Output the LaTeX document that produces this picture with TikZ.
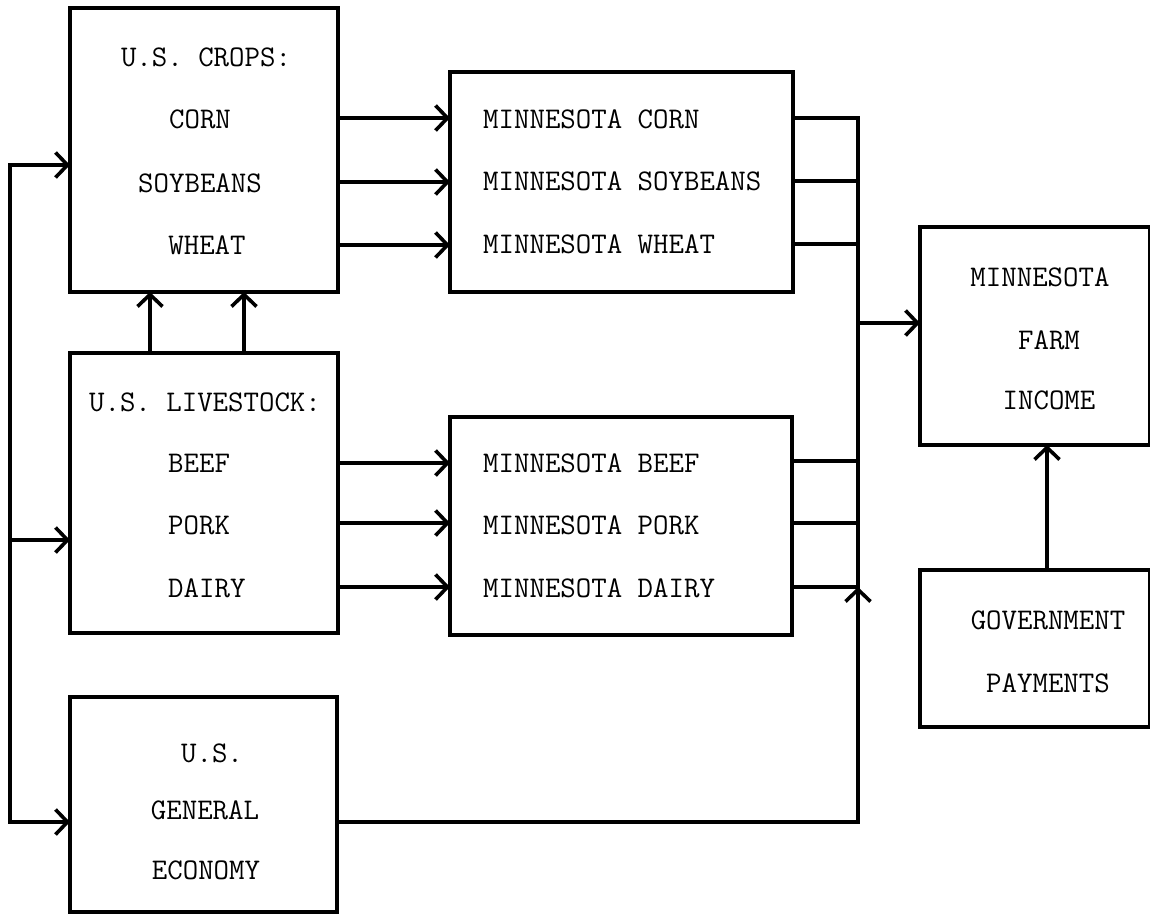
\documentclass[tikz,border=0pt]{standalone}
\usepackage{fontspec}
\usetikzlibrary{arrows.meta}
\begin{document}
\begin{tikzpicture}[x=1pt,y=-1pt,
  box/.style 2 args={draw,line width=4pt,minimum width=#1,minimum height=#2,inner sep=0pt,outer sep=0pt},
  lbl/.style={font=\fontsize{30}{36}\selectfont\ttfamily,inner sep=0pt},
  conn/.style={line width=3.6pt,line cap=rect},
  arr/.style={line width=3.6pt,-{Straight Barb[length=12pt,width=25pt]}}]
\useasboundingbox (0,0) rectangle (1150,915);
\clip (0,0) rectangle (1150,915);
% boxes
\node[box={268pt}{284pt}] (crops) at (204,150) {};
\node[box={343pt}{220pt}] (mncrops) at (621.5,182) {};
\node[box={268pt}{280pt}] (live) at (204,493) {};
\node[box={342pt}{218pt}] (mnlive) at (621,526) {};
\node[box={267pt}{215pt}] (econ) at (203.5,804.5) {};
\node[box={230pt}{218pt}] (farm) at (1035,336) {};
\node[box={230pt}{157pt}] (gov) at (1035,648.5) {};
% texts
\node[lbl] (t1) at (206,57) {U.S. CROPS:};
\node[lbl] (t2) at (200,119) {CORN};
\node[lbl] (t3) at (200,183) {SOYBEANS};
\node[lbl] (t4) at (207,245) {WHEAT};
\node[lbl] (t5) at (205,402) {U.S. LIVESTOCK:};
\node[lbl,anchor=west] (t6) at (168,463) {BEEF};
\node[lbl,anchor=west] (t7) at (168,525) {PORK};
\node[lbl,anchor=west] (t8) at (168,588) {DAIRY};
\node[lbl,anchor=west] (t9) at (483,119) {MINNESOTA CORN};
\node[lbl,anchor=west] (t10) at (483,181) {MINNESOTA SOYBEANS};
\node[lbl,anchor=west] (t11) at (483,244) {MINNESOTA WHEAT};
\node[lbl,anchor=west] (t12) at (483,463) {MINNESOTA BEEF};
\node[lbl,anchor=west] (t13) at (483,525) {MINNESOTA PORK};
\node[lbl,anchor=west] (t14) at (483,588) {MINNESOTA DAIRY};
\node[lbl] (t15) at (212,753) {U.S.};
\node[lbl] (t16) at (205,810) {GENERAL};
\node[lbl] (t17) at (206,870) {ECONOMY};
\node[lbl] (t18) at (1040,277) {MINNESOTA};
\node[lbl] (t19) at (1049,340) {FARM};
\node[lbl] (t20) at (1049,400) {INCOME};
\node[lbl] (t21) at (1048,620) {GOVERNMENT};
\node[lbl] (t22) at (1048,683) {PAYMENTS};
% left bus
\coordinate (lt) at (10,165);
\coordinate (lb) at (10,822);
\draw[conn] (lt) -- (lb);
\draw[arr] (lt) -- (crops.west |- lt);
\draw[arr] (lt |- 0,540) -- (live.west |- 0,540);
\draw[arr] (lb) -- (econ.west |- lb);
% crops -> MN crops
\draw[arr] (crops.east |- 0,118) -- (mncrops.west |- 0,118);
\draw[arr] (crops.east |- 0,182) -- (mncrops.west |- 0,182);
\draw[arr] (crops.east |- 0,245) -- (mncrops.west |- 0,245);
% livestock -> crops
\draw[arr] (live.north -| 150,0) -- (crops.south -| 150,0);
\draw[arr] (live.north -| 244,0) -- (crops.south -| 244,0);
% livestock -> MN livestock
\draw[arr] (live.east |- 0,463) -- (mnlive.west |- 0,463);
\draw[arr] (live.east |- 0,523) -- (mnlive.west |- 0,523);
\draw[arr] (live.east |- 0,587) -- (mnlive.west |- 0,587);
% right bus
\coordinate (bt) at (858,118);
\coordinate (bj) at (858,587);
\coordinate (bb) at (858,822);
\draw[conn] (mncrops.east |- bt) -- (bt) -- (bj);
\draw[conn] (mncrops.east |- 0,181) -- (bt |- 0,181);
\draw[conn] (mncrops.east |- 0,244) -- (bt |- 0,244);
\draw[conn] (mnlive.east |- 0,461) -- (bt |- 0,461);
\draw[conn] (mnlive.east |- 0,523) -- (bt |- 0,523);
\draw[conn] (mnlive.east |- bj) -- (bj);
\draw[conn] (econ.east |- bb) -- (bb);
\draw[arr] (bb) -- (bj);
\draw[arr] (bt |- 0,323) -- (farm.west |- 0,323);
% government -> farm income
\draw[arr] (gov.north -| 1047,0) -- (farm.south -| 1047,0);
\end{tikzpicture}
\end{document}
